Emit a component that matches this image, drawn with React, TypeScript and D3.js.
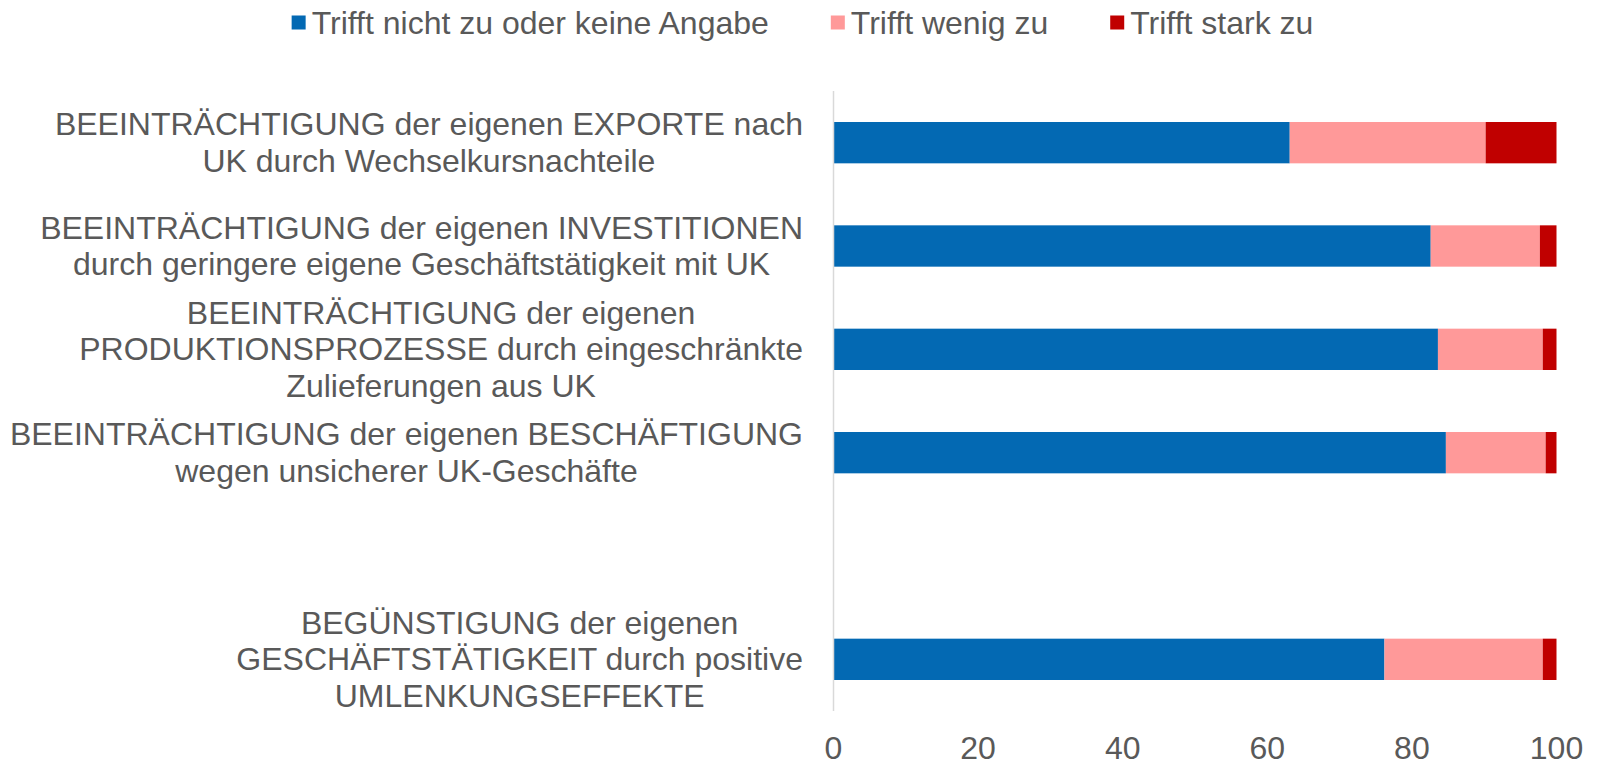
import React, { useEffect, useRef } from 'react'
import * as d3 from 'd3'

// category labels, one array of lines per bar (empty row is a spacer in the original)
const categories: string[][] = [
  ['BEEINTRÄCHTIGUNG der eigenen EXPORTE nach', 'UK durch Wechselkursnachteile'],
  ['BEEINTRÄCHTIGUNG der eigenen INVESTITIONEN', 'durch geringere eigene Geschäftstätigkeit mit UK'],
  ['BEEINTRÄCHTIGUNG der eigenen', 'PRODUKTIONSPROZESSE durch eingeschränkte', 'Zulieferungen aus UK'],
  ['BEEINTRÄCHTIGUNG der eigenen BESCHÄFTIGUNG', 'wegen unsicherer UK-Geschäfte'],
  [],
  ['BEGÜNSTIGUNG der eigenen', 'GESCHÄFTSTÄTIGKEIT durch positive', 'UMLENKUNGSEFFEKTE'],
]
const seriesNames = ['Trifft nicht zu oder keine Angabe', 'Trifft wenig zu', 'Trifft stark zu']
const nichtZu = [63.1, 82.6, 83.6, 84.7, 0, 76.2]
const wenigZu = [27.1, 15.1, 14.5, 13.8, 0, 21.9]
const starkZu = [9.8, 2.3, 1.9, 1.5, 0, 1.9]
const xTicks = [0, 20, 40, 60, 80, 100]
const colors = ['#0369B3', '#FF9999', '#C00000']

const W = 1598
const H = 762
const FONT = '"Liberation Sans", Arial, sans-serif'
const TEXT = '#595959'

export default function App() {
  const ref = useRef<SVGSVGElement>(null)

  useEffect(() => {
    const svg = d3.select(ref.current)
    svg.selectAll('*').remove()

    const plot = { left: 833.5, right: 1556.5, top: 91, bottom: 711 }
    const keys = categories.map((d, i) => String(i))

    const x = d3.scaleLinear().domain([0, 100]).range([plot.left, plot.right])
    const y = d3.scaleBand().domain(keys).range([plot.top, plot.bottom]).paddingInner(0.6).paddingOuter(0.3)

    const rows = keys.map((k, i) => ({ key: k, s0: nichtZu[i], s1: wenigZu[i], s2: starkZu[i] }))
    const stacked = d3.stack<any>().keys(['s0', 's1', 's2'])(rows)

    // bars
    stacked.forEach((layer, li) => {
      svg.append('g')
        .attr('fill', colors[li])
        .selectAll('rect')
        .data(layer.filter(d => d[1] - d[0] > 0))
        .enter()
        .append('rect')
        .attr('x', d => x(d[0]))
        .attr('width', d => x(d[1]) - x(d[0]))
        .attr('y', d => y(d.data.key)!)
        .attr('height', y.bandwidth())
    })

    // vertical axis line
    svg.append('line')
      .attr('x1', x(0)).attr('x2', x(0))
      .attr('y1', plot.top).attr('y2', plot.bottom)
      .attr('stroke', '#D9D9D9').attr('stroke-width', 1.5)

    // x tick labels
    svg.append('g')
      .selectAll('text')
      .data(xTicks)
      .enter()
      .append('text')
      .attr('x', d => x(d))
      .attr('y', 759)
      .attr('text-anchor', 'middle')
      .attr('font-family', FONT)
      .attr('font-size', 32)
      .attr('fill', TEXT)
      .text(d => d)

    // category labels: block right-aligned, lines centered inside
    const lineH = 36.7
    const labelRight = 803
    categories.forEach((lines, i) => {
      if (!lines.length) return
      const g = svg.append('g')
      const texts = lines.map(l => g.append('text')
        .attr('font-family', FONT)
        .attr('font-size', 32)
        .attr('fill', TEXT)
        .attr('text-anchor', 'middle')
        .text(l))
      const maxW = d3.max(texts, t => (t.node() as SVGTextElement).getComputedTextLength()) || 0
      const cx = labelRight - maxW / 2
      const cy = y(keys[i])! + y.bandwidth() / 2
      texts.forEach((t, j) => {
        t.attr('x', cx).attr('y', cy + (j - (lines.length - 1) / 2) * lineH + 11)
      })
    })

    // legend
    const leg = svg.append('g')
    let pos = 0
    seriesNames.forEach((name, i) => {
      const item = leg.append('g').attr('transform', `translate(${pos},0)`)
      item.append('rect').attr('x', 0).attr('y', 15.5).attr('width', 14).attr('height', 14).attr('fill', colors[i])
      const t = item.append('text')
        .attr('x', 20).attr('y', 34)
        .attr('font-family', FONT)
        .attr('font-size', 32)
        .attr('fill', TEXT)
        .text(name)
      const tw = (t.node() as SVGTextElement).getComputedTextLength()
      pos += 20 + tw + 62
    })
    const legW = pos - 62
    leg.attr('transform', `translate(${802.5 - legW / 2},0)`)
  }, [])

  return (
    <svg ref={ref} width={W} height={H} style={{ position: 'absolute', left: 0, top: 0, background: '#fff' }} />
  )
}
